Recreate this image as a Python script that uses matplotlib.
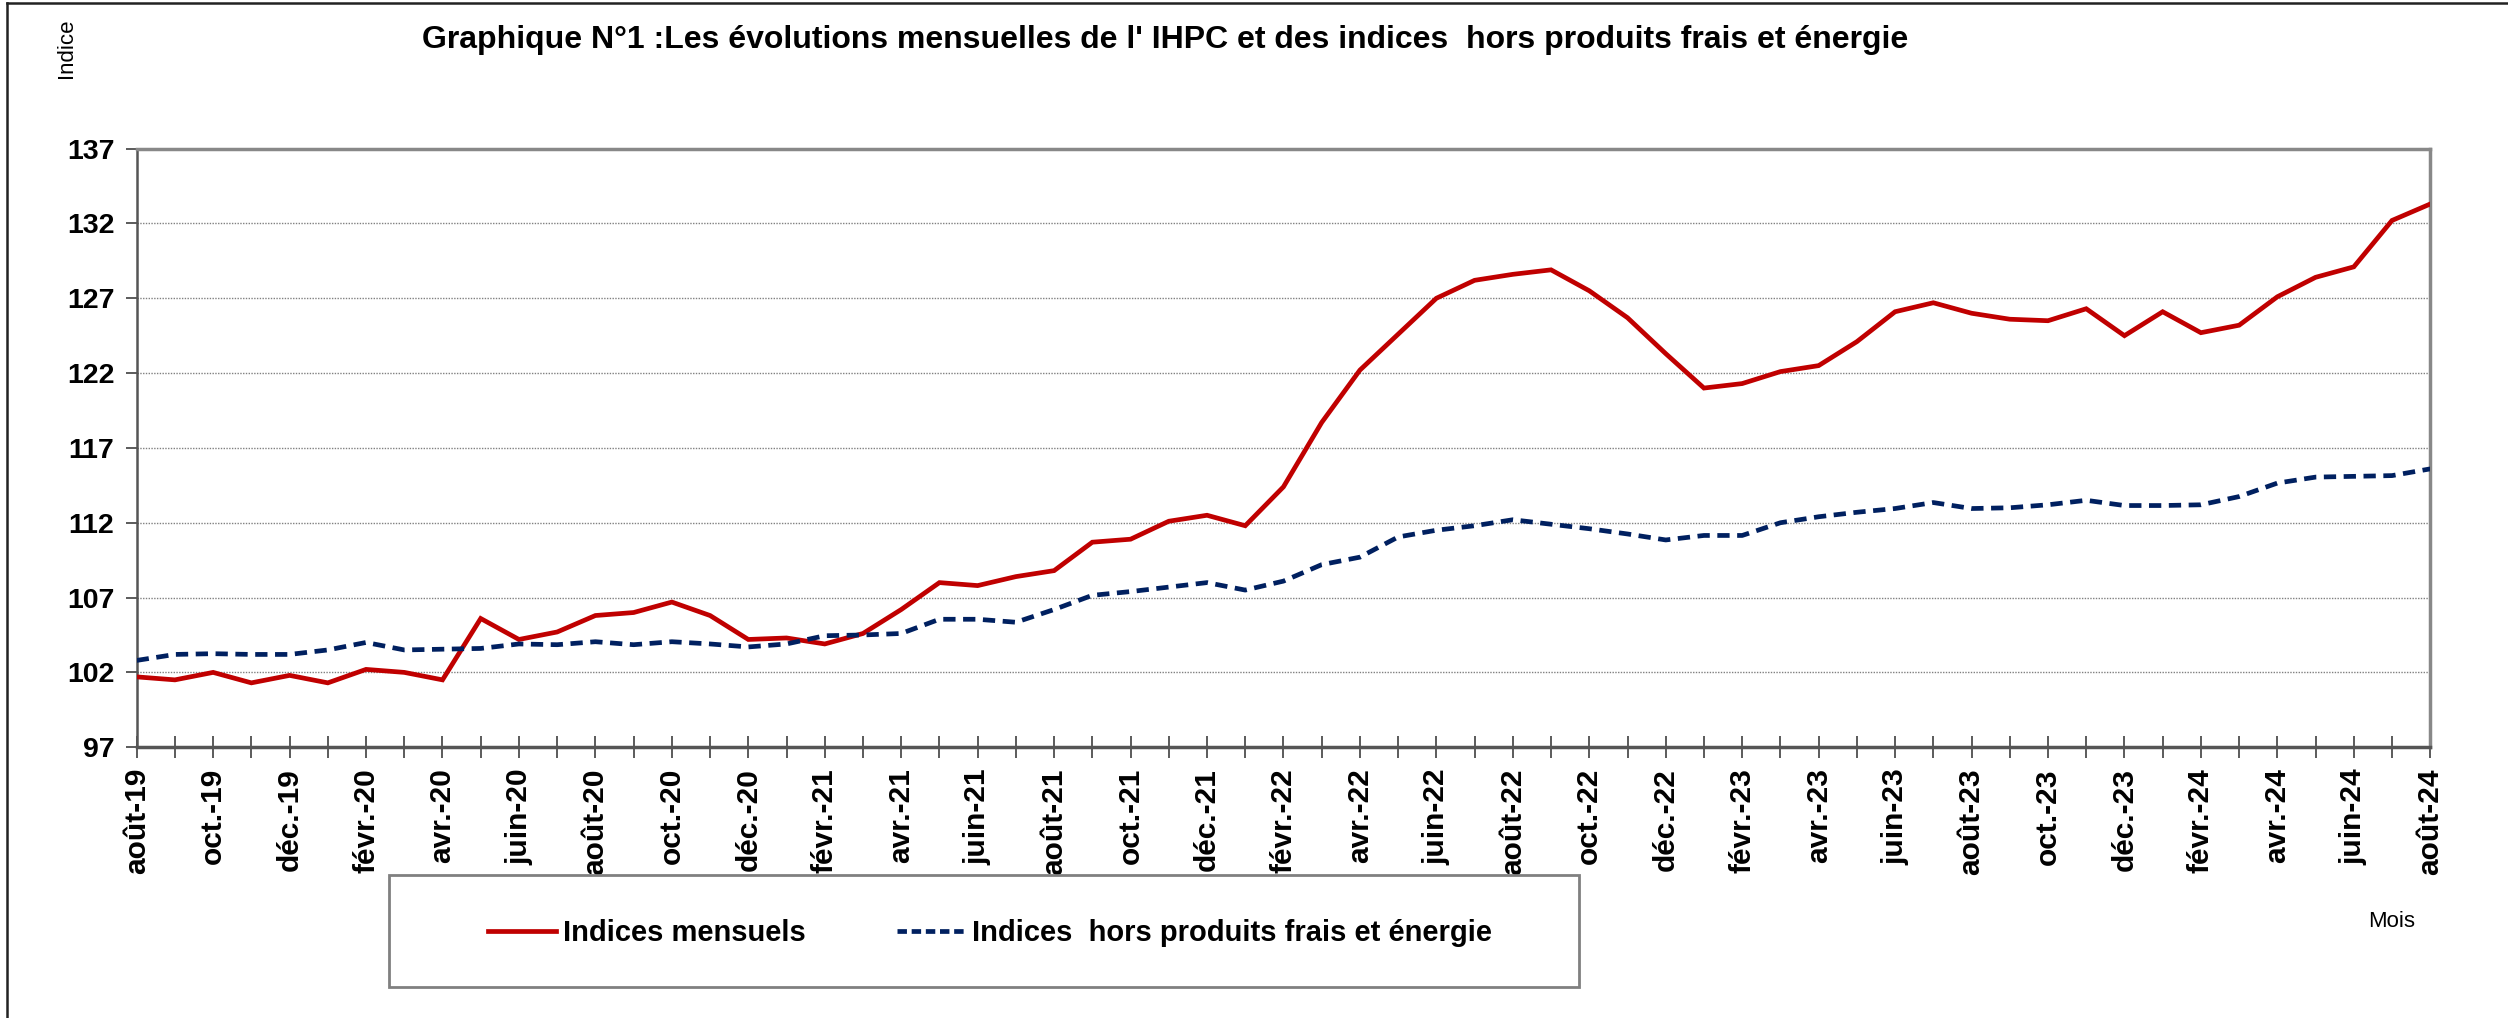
import matplotlib.pyplot as plt
from matplotlib.patches import Rectangle
from matplotlib.lines import Line2D

plt.rcParams['font.family'] = ['Liberation Sans', 'DejaVu Sans']

# month labels, aout 2019 -> aout 2024
mois_noms = ["janv.", "févr.", "mars", "avr.", "mai", "juin",
             "juil.", "août", "sept.", "oct.", "nov.", "déc."]
mois = []
for i in range(61):
    m = (7 + i) % 12
    an = 19 + (7 + i) // 12
    mois.append(f"{mois_noms[m]}-{an}")

# Indices mensuels (IHPC)
ihpc = [101.7, 101.5, 102.0, 101.3, 101.8, 101.3, 102.2, 102.0, 101.5, 105.6,
        104.2, 104.7, 105.8, 106.0, 106.7, 105.8, 104.2, 104.3, 103.9, 104.6,
        106.2, 108.0, 107.8, 108.4, 108.8, 110.7, 110.9, 112.1, 112.5, 111.8,
        114.4, 118.7, 122.2, 124.6, 127.0, 128.2, 128.6, 128.9, 127.5, 125.7,
        123.3, 121.0, 121.3, 122.1, 122.5, 124.1, 126.1, 126.7, 126.0, 125.6,
        125.5, 126.3, 124.5, 126.1, 124.7, 125.2, 127.1, 128.4, 129.1, 132.2,
        133.3]

# Indices hors produits frais et energie
hors_pfe = [102.8, 103.2, 103.25, 103.2, 103.2, 103.5, 104.0, 103.5, 103.55, 103.6,
            103.9, 103.85, 104.05, 103.85, 104.05, 103.9, 103.7, 103.9, 104.45, 104.5,
            104.6, 105.55, 105.55, 105.35, 106.2, 107.15, 107.4, 107.7, 108.0, 107.5,
            108.1, 109.2, 109.7, 111.05, 111.5, 111.8, 112.2, 111.9, 111.6, 111.25,
            110.85, 111.15, 111.15, 112.0, 112.4, 112.7, 112.95, 113.35, 112.95, 113.0,
            113.2, 113.5, 113.15, 113.15, 113.2, 113.75, 114.65, 115.05, 115.1, 115.15,
            115.6]

y_ticks = [97, 102, 107, 112, 117, 122, 127, 132, 137]

fig = plt.figure(figsize=(25.08, 10.18), dpi=100)
ax = fig.add_axes([0.0545, 0.266, 0.9145, 0.588])

x = list(range(len(mois)))
ax.plot(x, ihpc, color="#C00000", lw=3.4, solid_joinstyle="miter", zorder=3)
ax.plot(x, hors_pfe, color="#002060", lw=3.4, linestyle=(0, (2.6, 1.6)), zorder=3)

ax.set_xlim(0, 60)
ax.set_ylim(97, 137)
ax.set_yticks(y_ticks)
ax.set_yticklabels([str(v) for v in y_ticks], fontsize=20.5, fontweight="bold")
ax.set_xticks(x)
ax.set_xticklabels([m if i % 2 == 0 else "" for i, m in enumerate(mois)],
                   rotation=90, fontsize=21.5, fontweight="bold")

ax.yaxis.grid(True, linestyle=(0, (1, 1)), color="#808080", lw=1.0)
ax.set_axisbelow(True)
ax.tick_params(axis="x", direction="inout", length=16, width=1.2, color="#404040", pad=7)
ax.tick_params(axis="y", direction="out", length=8, width=1.2, color="#404040", pad=8)

for side in ["top", "right"]:
    ax.spines[side].set_color("#888888")
    ax.spines[side].set_linewidth(2.5)
ax.spines["left"].set_color("#555555")
ax.spines["left"].set_linewidth(1.8)
ax.spines["bottom"].set_color("#555555")
ax.spines["bottom"].set_linewidth(2.5)

fig.text(0.4645, 0.961, "Graphique N°1 :Les évolutions mensuelles de l' IHPC et des indices  hors produits frais et énergie",
         ha="center", va="center", fontsize=23, fontweight="bold")
fig.text(0.0265, 0.953, "Indice", rotation=90, ha="center", va="center", fontsize=16)
fig.text(0.9537, 0.095, "Mois", ha="center", va="center", fontsize=16)

# figure outline (top and left only visible)
fig.add_artist(Line2D([0.0028, 1.0], [0.997, 0.997], transform=fig.transFigure, color="#222222", lw=1.8))
fig.add_artist(Line2D([0.0028, 0.0028], [0.0, 0.997], transform=fig.transFigure, color="#222222", lw=1.8))

# legend box
fig.add_artist(Rectangle((389 / 2508, 1 - 987 / 1018), 1190 / 2508, 112 / 1018,
                         transform=fig.transFigure, fill=False, edgecolor="#808080", lw=2))
handles = [Line2D([], [], color="#C00000", lw=3.4),
           Line2D([], [], color="#002060", lw=3.4, linestyle=(0, (2.0, 1.0)))]
fig.legend(handles, ["Indices mensuels", "Indices  hors produits frais et énergie"],
           loc="center", bbox_to_anchor=(990 / 2508, 1 - 933 / 1018), ncol=2, frameon=False,
           prop={"size": 21, "weight": "bold"}, handlelength=2.3, handletextpad=0.27,
           columnspacing=3.1)

fig.savefig("out.png", dpi=100)
